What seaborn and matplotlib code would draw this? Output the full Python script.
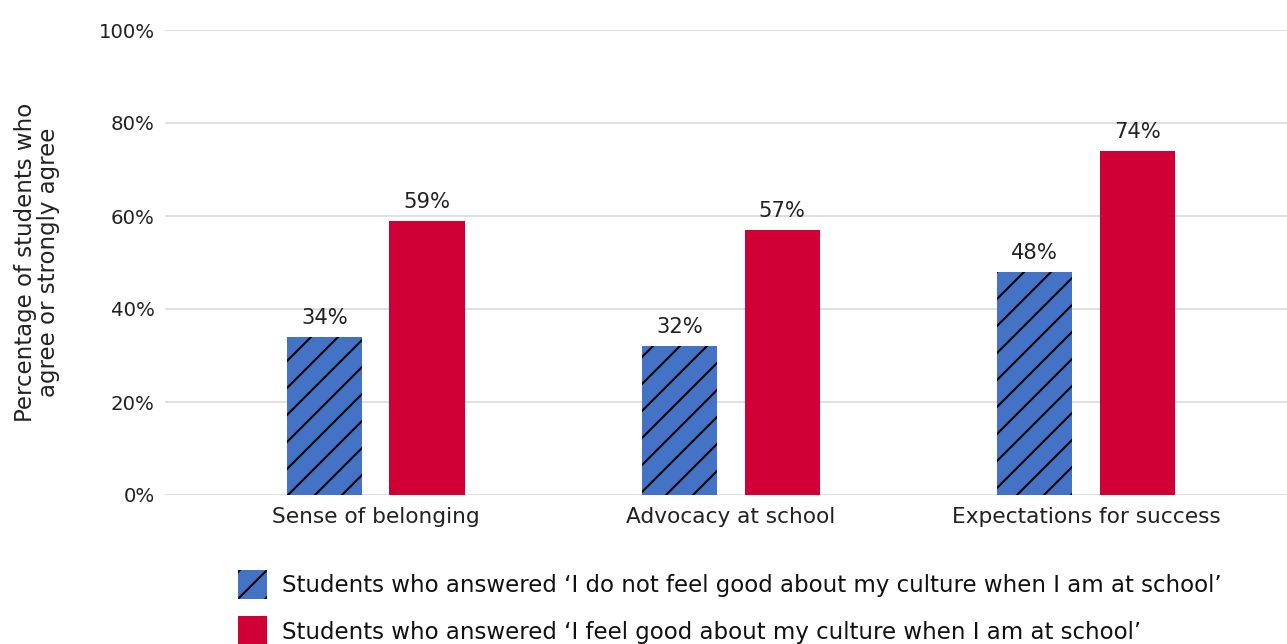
import pandas as pd
import seaborn as sns
import matplotlib.pyplot as plt
from matplotlib.patches import Patch

categories = ["Sense of belonging", "Advocacy at school", "Expectations for success"]
groups = [
    "Students who answered \u2018I do not feel good about my culture when I am at school\u2019",
    "Students who answered \u2018I feel good about my culture when I am at school\u2019",
]
not_good = [34, 32, 48]
feel_good = [59, 57, 74]
yticks = [0, 20, 40, 60, 80, 100]

BLUE = "#4472C4"
RED = "#D00037"

df = pd.DataFrame({
    "category": categories * 2,
    "group": [groups[0]] * 3 + [groups[1]] * 3,
    "value": not_good + feel_good,
})

# dpi 162 so the hatch spacing matches the reference (~27 px)
DPI = 162
sns.set_theme(style="white")
plt.rcParams["font.family"] = ["DejaVu Sans"]
plt.rcParams["hatch.linewidth"] = 0.9

fig = plt.figure(figsize=(1287 / DPI, 644 / DPI), dpi=DPI)
ax = fig.add_axes([165 / 1287, 1 - 495 / 644, 1 - 165 / 1287, (495 - 30) / 644])

sns.barplot(data=df, x="category", y="value", hue="group", palette=[BLUE, RED],
            width=0.577, gap=0.265, ax=ax, legend=False, saturation=1)

for bar in ax.containers[0]:
    bar.set_hatch("//")
    bar.set_edgecolor("black")
    bar.set_linewidth(0)
for bar in ax.containers[1]:
    bar.set_linewidth(0)

for cont in ax.containers:
    ax.bar_label(cont, fmt="%d%%", padding=4, fontsize=9.4, color="#222222")

ax.set_ylim(0, 100)
ax.set_xlim(-0.594, 2.566)
ax.set_yticks(yticks)
ax.set_yticklabels([f"{t}%" for t in yticks])
ax.yaxis.grid(True, color="#e0e0e0", linewidth=0.9)
ax.set_axisbelow(True)
for s in ax.spines.values():
    s.set_visible(False)
ax.tick_params(axis="y", length=0, labelsize=8.8, labelcolor="#222222", pad=4.5)
ax.tick_params(axis="x", length=0, labelsize=9.6, labelcolor="#222222", pad=5.5)
ax.set_xlabel("")
ax.set_ylabel("Percentage of students who\nagree or strongly agree", fontsize=10.2,
              color="#222222", linespacing=1.0)
ax.yaxis.set_label_coords(-0.094, 0.5)

handles = [
    Patch(facecolor=BLUE, edgecolor="black", hatch="//", linewidth=0, label=groups[0]),
    Patch(facecolor=RED, linewidth=0, label=groups[1]),
]
fig.legend(handles=handles, loc="upper left", bbox_to_anchor=(217 / 1287, 1 - 549 / 644),
           frameon=False, fontsize=10.2, handlelength=1.3, handleheight=1.6,
           handletextpad=0.65, labelspacing=0.75, labelcolor="#111111")

fig.savefig("out.png", dpi=DPI)
